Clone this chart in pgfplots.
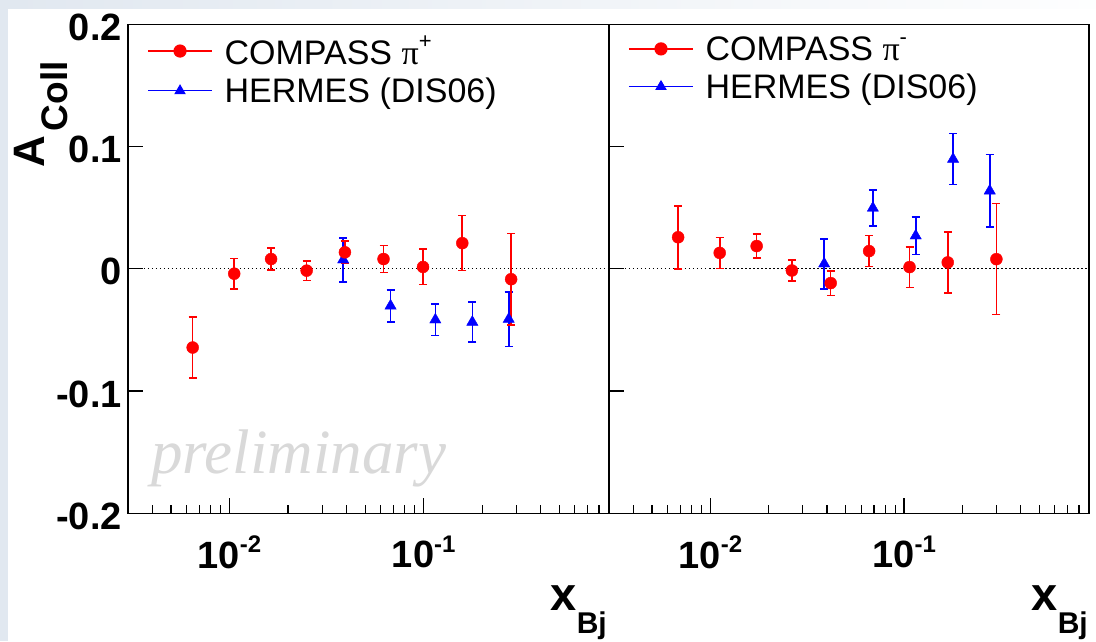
\documentclass[border=0pt]{standalone}
\usepackage{fontspec}
\usepackage{pgfplots}
\usepackage{pgfplotstable}
\pgfplotsset{compat=1.18}
\setmainfont{Liberation Sans}
\newfontfamily\seriffont{Liberation Serif}

\definecolor{slidebg}{HTML}{E1E8F0}
\definecolor{rootred}{HTML}{FF0000}
\definecolor{rootblue}{HTML}{0000FF}
\definecolor{prelimgray}{HTML}{D9D9D9}

% Collins asymmetry vs x_Bj: x, A_Coll, statistical error
\pgfplotstableread{
x        y        ey
0.00646  -0.0644  0.0250
0.01057  -0.0040  0.0125
0.01637   0.0080  0.0090
0.02496  -0.0015  0.0080
0.0393    0.0135  0.0090
0.0621    0.0080  0.0110
0.0992    0.0015  0.0145
0.158     0.0210  0.0225
0.282    -0.0085  0.0375
}\compassplus

\pgfplotstableread{
x        y        ey
0.0385    0.0074  0.0180
0.0675   -0.0303  0.0130
0.1148   -0.0417  0.0127
0.178    -0.0436  0.0165
0.274    -0.0412  0.0222
}\hermesplus

\pgfplotstableread{
x        y        ey
0.00682   0.0258  0.0258
0.01118   0.0130  0.0127
0.01734   0.0186  0.0098
0.02636  -0.0014  0.0085
0.0418   -0.0117  0.0100
0.0660    0.0145  0.0126
0.1067    0.0014  0.0166
0.168     0.0052  0.0250
0.2995    0.0079  0.0454
}\compassminus

\pgfplotstableread{
x        y        ey
0.0387    0.0041  0.0205
0.069     0.0497  0.0146
0.1148    0.0270  0.0152
0.179     0.0897  0.0209
0.2767    0.0638  0.0298
}\hermesminus

\newcommand{\dec}[1]{10\raisebox{0.42em}{\fontsize{24}{24}\selectfont #1}}
\newcommand{\ticksfont}{\fontsize{38}{38}\selectfont\bfseries}
\newcommand{\pisup}[1]{{\seriffont π}\raisebox{0.45em}{\fontsize{22}{22}\selectfont #1}}

\begin{document}
\begin{tikzpicture}
\useasboundingbox (0,0) rectangle (1096pt,641pt);
\fill[slidebg] (0,0) rectangle (1096pt,641pt);
\shade[left color=slidebg, right color=white!95!slidebg] (8pt,632pt) rectangle (1096pt,641pt);
\fill[white] (8pt,0) rectangle (1096pt,632pt);

% pi+ panel
\begin{axis}[at={(128pt,127.7pt)}, anchor=south west, width=481pt, height=489pt,
    scale only axis, xmode=log,
    xmin=0.003, xmax=0.9, ymin=-0.2, ymax=0.2,
    axis line style={line width=1.2pt},
    tick style={black, line width=1.2pt},
    major tick length=15pt, minor tick length=8pt, tick align=inside,
    xtick={0.01,0.1},
    minor xtick={0.004,0.005,0.006,0.007,0.008,0.009,0.02,0.03,0.04,0.05,0.06,0.07,0.08,0.09,0.2,0.3,0.4,0.5,0.6,0.7,0.8},
    xticklabels={\dec{-2},\dec{-1}},
    xticklabel style={font=\ticksfont, inner sep=0pt, anchor=north, yshift=-22pt},
    xtick pos=bottom, ytick pos=left,
    ytick={-0.2,-0.1,0,0.1,0.2},
    yticklabels={-0.2,-0.1,0,0.1,0.2},
    yticklabel style={font=\ticksfont, inner sep=0pt, anchor=east, xshift=-6pt, yshift=-3pt},
    clip=false,
    legend image code/.code={\draw[mark repeat=2, mark phase=2, #1] plot coordinates {(0pt,0pt) (32pt,0pt) (64pt,0pt)};},
    legend style={draw=none, fill=none, inner sep=0pt,
      at={(0.04,0.98)}, anchor=north west,
      font=\fontsize{34}{38}\selectfont, row sep=8pt, column sep=10pt},
    legend cell align=left]
  \addplot[forget plot, black, line width=1pt, dash pattern=on 1.5pt off 2.5pt]
    coordinates {(0.003,0) (0.9,0)};
  \addplot[forget plot, only marks, color=rootblue, mark=triangle*, mark size=6.5pt,
    error bars/y dir=both, error bars/y explicit,
    error bars/error bar style={draw=rootblue, line width=1.6pt},
    error bars/error mark options={draw=rootblue, line width=1.6pt, mark size=4pt, rotate=90}]
    table[x=x, y=y, y error=ey] {\hermesplus};
  \addplot[forget plot, only marks, color=rootred, mark=*, mark size=6pt,
    error bars/y dir=both, error bars/y explicit,
    error bars/error bar style={draw=rootred, line width=1.6pt},
    error bars/error mark options={draw=rootred, line width=1.6pt, mark size=4pt, rotate=90}]
    table[x=x, y=y, y error=ey] {\compassplus};
  \addlegendimage{rootred, mark=*, mark size=6pt, line width=1.2pt}
  \addlegendentry{COMPASS \pisup{+}}
  \addlegendimage{rootblue, mark=triangle*, mark size=5.5pt, line width=1.2pt}
  \addlegendentry{HERMES (DIS06)}
\end{axis}

% pi- panel
\begin{axis}[at={(609pt,127.7pt)}, anchor=south west, width=480pt, height=489pt,
    scale only axis, xmode=log,
    xmin=0.003, xmax=0.9, ymin=-0.2, ymax=0.2,
    axis line style={line width=1.2pt},
    tick style={black, line width=1.2pt},
    major tick length=15pt, minor tick length=8pt, tick align=inside,
    xtick={0.01,0.1},
    minor xtick={0.004,0.005,0.006,0.007,0.008,0.009,0.02,0.03,0.04,0.05,0.06,0.07,0.08,0.09,0.2,0.3,0.4,0.5,0.6,0.7,0.8},
    xticklabels={\dec{-2},\dec{-1}},
    xticklabel style={font=\ticksfont, inner sep=0pt, anchor=north, yshift=-22pt},
    xtick pos=bottom, ytick pos=left,
    ytick={-0.2,-0.1,0,0.1,0.2},
    yticklabels={},
    clip=false,
    legend image code/.code={\draw[mark repeat=2, mark phase=2, #1] plot coordinates {(0pt,0pt) (32pt,0pt) (64pt,0pt)};},
    legend style={draw=none, fill=none, inner sep=0pt,
      at={(0.04,0.98)}, anchor=north west,
      font=\fontsize{34}{38}\selectfont, row sep=8pt, column sep=10pt},
    legend cell align=left]
  \addplot[forget plot, black, line width=1pt, dash pattern=on 1.5pt off 2.5pt]
    coordinates {(0.003,0) (0.9,0)};
  \addplot[forget plot, only marks, color=rootblue, mark=triangle*, mark size=6.5pt,
    error bars/y dir=both, error bars/y explicit,
    error bars/error bar style={draw=rootblue, line width=1.6pt},
    error bars/error mark options={draw=rootblue, line width=1.6pt, mark size=4pt, rotate=90}]
    table[x=x, y=y, y error=ey] {\hermesminus};
  \addplot[forget plot, only marks, color=rootred, mark=*, mark size=6pt,
    error bars/y dir=both, error bars/y explicit,
    error bars/error bar style={draw=rootred, line width=1.6pt},
    error bars/error mark options={draw=rootred, line width=1.6pt, mark size=4pt, rotate=90}]
    table[x=x, y=y, y error=ey] {\compassminus};
  \addlegendimage{rootred, mark=*, mark size=6pt, line width=1.2pt}
  \addlegendentry{COMPASS \pisup{-}}
  \addlegendimage{rootblue, mark=triangle*, mark size=5.5pt, line width=1.2pt}
  \addlegendentry{HERMES (DIS06)}
\end{axis}

% axis titles
\node[rotate=90, anchor=base east, inner sep=0pt] at (45pt,580pt)
  {\bfseries\fontsize{44}{44}\selectfont A\kern5pt\raisebox{-22pt}{\fontsize{37}{37}\selectfont Coll}};
\node[anchor=base east, inner sep=0pt] at (607pt,31pt)
  {\bfseries\fontsize{47}{47}\selectfont x\raisebox{-23pt}{\fontsize{30}{30}\selectfont Bj}};
\node[anchor=base east, inner sep=0pt] at (1088pt,31pt)
  {\bfseries\fontsize{47}{47}\selectfont x\raisebox{-23pt}{\fontsize{30}{30}\selectfont Bj}};

% watermark
\node[anchor=base west, inner sep=0pt, text=prelimgray] at (151pt,168pt)
  {\seriffont\itshape\fontsize{63}{63}\selectfont preliminary};
\end{tikzpicture}
\end{document}
